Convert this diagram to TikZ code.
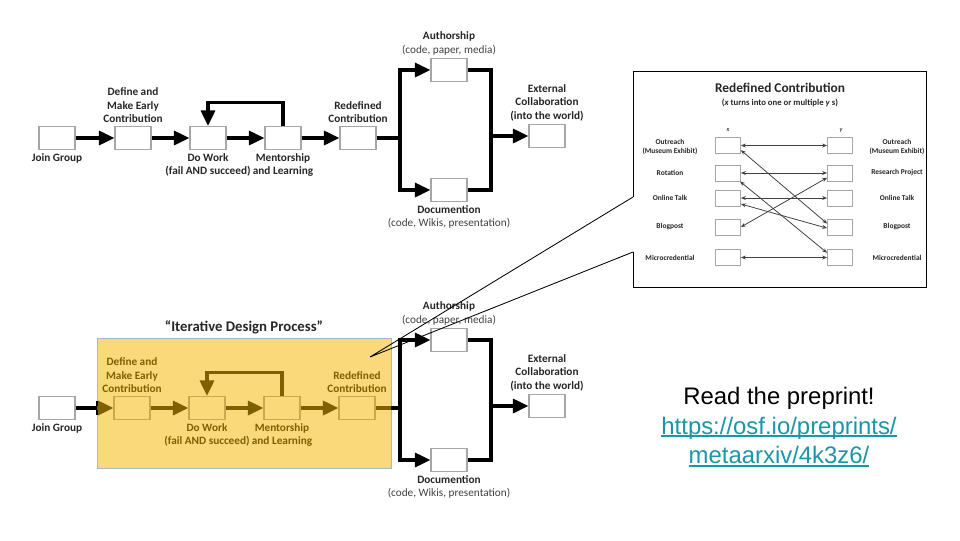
\documentclass[tikz,border=0pt]{standalone}
\usepackage{fontspec}
\setmainfont{Carlito}
\newfontfamily\arialfont{Liberation Sans}
\usetikzlibrary{arrows.meta,positioning}
\definecolor{ink}{HTML}{262626}
\definecolor{grey}{HTML}{404040}
\definecolor{boxline}{HTML}{A6A6A6}
\definecolor{gold}{HTML}{F9D97A}
\definecolor{olive}{HTML}{7F6000}
\definecolor{tan}{HTML}{C9A94E}
\definecolor{frame}{HTML}{A9B8C8}
\definecolor{teal}{HTML}{1A96A8}
\tikzset{
  stage/.style={rectangle,draw=boxline,fill=white,line width=0.8pt,
    minimum width=0.9cm,minimum height=0.575cm,inner sep=0pt},
  ystage/.style={stage,draw=tan,fill=gold},
  lbl/.style={align=center,text=ink,inner sep=0pt,font=\fontsize{8}{9.6}\selectfont\bfseries},
  ylbl/.style={lbl,text=olive},
  wire/.style={line width=2.2pt,draw=black},
  ywire/.style={wire,draw=olive},
  arrow/.style={-{Triangle[length=11pt,width=10pt]},wire},
  yarrow/.style={arrow,draw=olive},
  pbox/.style={rectangle,draw=boxline,fill=white,line width=0.6pt,
    minimum width=0.625cm,minimum height=0.4cm,inner sep=0pt},
  plbl/.style={align=center,text=ink,inner sep=0pt,font=\fontsize{5.3}{7}\selectfont\bfseries},
  link/.style={{Stealth[length=3.5pt,width=2.8pt]}-{Stealth[length=3.5pt,width=2.8pt]},draw=grey,line width=0.55pt}
}
\newcommand{\sublbl}[1]{{\mdseries\color{grey}#1}}
\newcommand{\weblink}[1]{{\color{teal}\setbox0\hbox{#1}\rlap{\rule[-1.9pt]{\wd0}{1.1pt}}\box0}}

\begin{document}
\begin{tikzpicture}[x=0.025cm,y=-0.025cm,node distance=2pt]
\useasboundingbox (0,0) rectangle (960,540);

\node[stage] (join) at (57,138) {};
\node[stage] (define) at (133,138) {};
\node[stage] (work) at (208,138) {};
\node[stage] (mentor) at (283,138) {};
\node[stage] (redef) at (358,138) {};
\node[stage] (auth) at (449,70) {};
\node[stage] (doc) at (449,190) {};
\node[stage] (ext) at (547,136) {};
\coordinate (split) at (400,138);
\coordinate (merge) at (491,136);
\node[lbl,below=of join] (joinlbl) {Join Group};
\node[lbl,above=of define] (definelbl) {Define and\\Make Early\\Contribution};
\node[lbl,below=of work] (worklbl) {Do Work\\(fail AND succeed)};
\node[lbl,below=of mentor] (mentorlbl) {Mentorship\\and Learning};
\node[lbl,above=of redef] (redeflbl) {Redefined\\Contribution};
\node[lbl,above=of auth] (authlbl) {Authorship\\\sublbl{(code, paper, media)}};
\node[lbl,below=of doc] (doclbl) {Documention\\\sublbl{(code, Wikis, presentation)}};
\node[lbl,above=of ext] (extlbl) {External\\Collaboration\\(into the world)};
\draw[arrow] (join) -- (define);
\draw[arrow] (define) -- (work);
\draw[arrow] (work) -- (mentor);
\draw[arrow] (mentor) -- (redef);
\draw[arrow] (mentor.north) -- ++(0,-23) -| (work.north);
\draw[wire] (redef.east) -- (split);
\draw[arrow] (split) |- (auth.west);
\draw[arrow] (split) |- (doc.west);
\draw[wire] (auth.east) -| (merge);
\draw[wire] (doc.east) -| (merge);
\draw[arrow] (merge) -- (ext.west);

\fill[gold,draw=frame,line width=0.6pt] (97,338) rectangle (391,468);
\node[inner sep=0pt,text=ink,font=\fontsize{10.5}{12}\selectfont\bfseries] (iter) at (244,327) {“Iterative Design Process”};
\node[stage] (join2) at (57,408) {};
\node[ystage] (define2) at (132,408) {};
\node[ystage] (work2) at (207,408) {};
\node[ystage] (mentor2) at (282,408) {};
\node[ystage] (redef2) at (357,408) {};
\node[stage] (auth2) at (449,340) {};
\node[stage] (doc2) at (449,460) {};
\node[stage] (ext2) at (547,406) {};
\coordinate (lin) at (97,408);
\coordinate (rout) at (391,408);
\coordinate (split2) at (400,408);
\coordinate (merge2) at (491,406);
\node[lbl,below=of join2] (joinlbl2) {Join Group};
\node[ylbl,above=of define2] (definelbl2) {Define and\\Make Early\\Contribution};
\node[ylbl,below=of work2] (worklbl2) {Do Work\\(fail AND succeed)};
\node[ylbl,below=of mentor2] (mentorlbl2) {Mentorship\\and Learning};
\node[ylbl,above=of redef2] (redeflbl2) {Redefined\\Contribution};
\node[lbl,above=of auth2] (authlbl2) {Authorship\\\sublbl{(code, paper, media)}};
\node[lbl,below=of doc2] (doclbl2) {Documention\\\sublbl{(code, Wikis, presentation)}};
\node[lbl,above=of ext2] (extlbl2) {External\\Collaboration\\(into the world)};
\draw[wire] (join2.east) -- (lin);
\draw[line width=1.2pt] (97,401) -- (97,415);
\draw[yarrow] (lin) -- (define2.west);
\draw[yarrow] (define2) -- (work2);
\draw[yarrow] (work2) -- (mentor2);
\draw[yarrow] (mentor2) -- (redef2);
\draw[yarrow] (mentor2.north) -- ++(0,-23) -| (work2.north);
\draw[ywire] (redef2.east) -- (rout);
\draw[wire] (rout) -- (split2);
\draw[arrow] (split2) |- (auth2.west);
\draw[arrow] (split2) |- (doc2.west);
\draw[wire] (auth2.east) -| (merge2);
\draw[wire] (doc2.east) -| (merge2);
\draw[arrow] (merge2) -- (ext2.west);

\fill[white] (633,71) rectangle (926,287);
\coordinate (tip) at (370,357);
\coordinate (gapa) at (633,197);
\coordinate (gapb) at (633,252);
\draw[line width=0.7pt] (gapa) -- (633,71) -- (926,71) -- (926,287) -- (633,287) -- (gapb);
\draw[line width=0.6pt] (gapa) -- (tip) -- (gapb);
\node[inner sep=0pt,text=ink,font=\fontsize{9.5}{11}\selectfont\bfseries] (ptitle) at (780,88) {Redefined Contribution};
\node[inner sep=0pt,text=ink,font=\fontsize{6.2}{7}\selectfont\bfseries] (psub) at (780,103) {(\textit{x} turns into one or multiple \textit{y} s)};
\node[pbox] (l1) at (728,145.5) {};
\node[pbox] (l2) at (728,173) {};
\node[pbox] (l3) at (728,198) {};
\node[pbox] (l4) at (728,227) {};
\node[pbox] (l5) at (728,257.5) {};
\node[pbox] (r1) at (840,145.5) {};
\node[pbox] (r2) at (840,173) {};
\node[pbox] (r3) at (840,198) {};
\node[pbox] (r4) at (840,227) {};
\node[pbox] (r5) at (840,257.5) {};
\node[inner sep=0pt,font=\fontsize{4.5}{5}\selectfont\itshape] (xlbl) at (728,130) {x};
\node[inner sep=0pt,font=\fontsize{4.5}{5}\selectfont\itshape] (ylbl) at (841,130) {y};
\node[plbl] (pl1) at (670,147) {Outreach\\(Museum Exhibit)};
\node[plbl] (pl2) at (670,173) {Rotation};
\node[plbl] (pl3) at (670,198) {Online Talk};
\node[plbl] (pl4) at (670,227) {Blogpost};
\node[plbl] (pl5) at (670,257.5) {Microcredential};
\node[plbl] (pr1) at (897,147) {Outreach\\(Museum Exhibit)};
\node[plbl] (pr2) at (897,173) {Research Project};
\node[plbl] (pr3) at (897,198) {Online Talk};
\node[plbl] (pr4) at (897,227) {Blogpost};
\node[plbl] (pr5) at (897,257.5) {Microcredential};
\draw[link] (l1.east) -- (r1.west);
\draw[link] (l2.east) -- (r2.west);
\draw[link] (l3.east) -- (r3.west);
\draw[link] (l5.east) -- (r5.west);
\draw[link] (l1.-20) -- (r4.165);
\draw[link] (l2.-35) -- (r5.160);
\draw[link] (l3.-25) -- (r4.185);
\draw[link] (l4.east) -- (r2.200);

\node[align=center,inner sep=0pt,font=\arialfont\fontsize{17}{21}\selectfont] (preprint) at (779,427)
  {Read the preprint!\\\weblink{https://osf.io/preprints/}\\\weblink{metaarxiv/4k3z6/}};
\end{tikzpicture}
\end{document}
